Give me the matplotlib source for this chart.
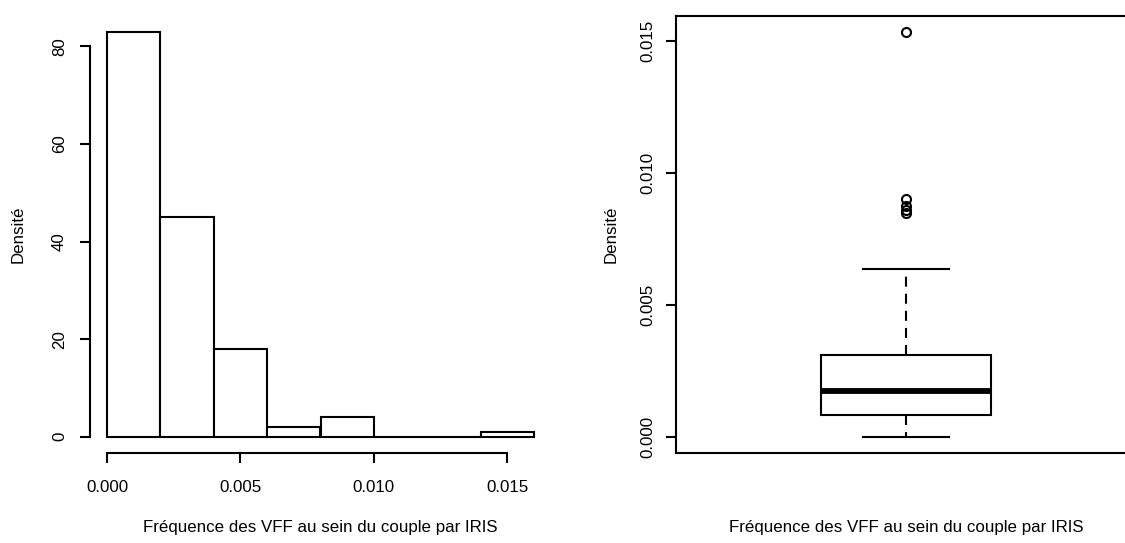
import matplotlib
matplotlib.use("Agg")
import matplotlib.pyplot as plt
import numpy as np

plt.rcParams['font.family'] = ['Liberation Sans', 'DejaVu Sans']

# Histogram data
bin_edges = [0.000, 0.002, 0.004, 0.006, 0.008, 0.010, 0.012, 0.014, 0.016]
counts = [83, 45, 18, 2, 4, 0, 0, 1]
hist_xticks = [0.000, 0.005, 0.010, 0.015]
hist_xticklabels = ["0.000", "0.005", "0.010", "0.015"]
hist_yticks = [0, 20, 40, 60, 80]

# Boxplot summary
box_q1 = 0.00083
box_med = 0.00174
box_q3 = 0.00311
box_whislo = 0.0
box_whishi = 0.00634
box_fliers = [0.01535, 0.00902, 0.00873, 0.00860, 0.00847]
box_yticks = [0.000, 0.005, 0.010, 0.015]
box_yticklabels = ["0.000", "0.005", "0.010", "0.015"]

xlabel = "Fréquence des VFF au sein du couple par IRIS"
ylabel = "Densité"

W, H = 1125, 543
fig = plt.figure(figsize=(W / 100, H / 100), dpi=100)

def pos(x0, y0, x1, y1):
    return [x0 / W, 1 - y1 / H, (x1 - x0) / W, (y1 - y0) / H]

lw = 1.5
fs = 12.2

# ---- Left: histogram ----
ax1 = fig.add_axes(pos(90, 15.5, 551, 453))
widths = np.diff(bin_edges)
ax1.bar(bin_edges[:-1], counts, width=widths, align='edge',
        facecolor='white', edgecolor='black', linewidth=lw)
rng = bin_edges[-1] - bin_edges[0]
ax1.set_xlim(bin_edges[0] - 0.04 * rng, bin_edges[-1] + 0.04 * rng)
ax1.set_ylim(-0.04 * max(counts), 1.04 * max(counts))
for s in ['top', 'right']:
    ax1.spines[s].set_visible(False)
ax1.spines['left'].set_bounds(0, 80)
ax1.spines['bottom'].set_bounds(0, 0.015)
for s in ['left', 'bottom']:
    ax1.spines[s].set_linewidth(lw)
ax1.set_xticks(hist_xticks)
ax1.set_xticklabels(hist_xticklabels)
ax1.set_yticks(hist_yticks)
ax1.set_yticklabels([str(v) for v in hist_yticks], rotation=90, va='center')
ax1.tick_params(axis='both', length=7.5, width=lw, labelsize=fs)
ax1.tick_params(axis='x', pad=12)
ax1.tick_params(axis='y', pad=9)
ax1.set_xlabel(xlabel, fontsize=fs, labelpad=18)
ax1.set_ylabel(ylabel, fontsize=fs, labelpad=19)

# ---- Right: boxplot ----
ax2 = fig.add_axes(pos(676, 15.5, 1136, 453))
stats = [dict(med=box_med, q1=box_q1, q3=box_q3, whislo=box_whislo,
              whishi=box_whishi, fliers=box_fliers)]
ax2.bxp(stats, positions=[1], widths=0.37, showcaps=True, patch_artist=True,
        boxprops=dict(facecolor='white', edgecolor='black', linewidth=lw),
        medianprops=dict(color='black', linewidth=4.2, solid_capstyle='butt'),
        whiskerprops=dict(color='black', linewidth=lw, linestyle=(0, (4.8, 3.4))),
        capprops=dict(color='black', linewidth=lw),
        capwidths=0.185,
        flierprops=dict(marker='o', markerfacecolor='none', markeredgecolor='black',
                        markersize=6.5, markeredgewidth=1.5))
ymin, ymax = 0.0, max(box_fliers)
yr = ymax - ymin
ax2.set_ylim(ymin - 0.04 * yr, ymax + 0.04 * yr)
ax2.set_xlim(0.5, 1.5)
for s in ax2.spines.values():
    s.set_linewidth(lw)
ax2.set_xticks([])
ax2.set_yticks(box_yticks)
ax2.set_yticklabels(box_yticklabels, rotation=90, va='center')
ax2.tick_params(axis='y', length=7.5, width=lw, labelsize=fs, pad=7)
ax2.set_xlabel(xlabel, fontsize=fs, labelpad=48)
ax2.set_ylabel(ylabel, fontsize=fs, labelpad=16)

fig.savefig("out.png", dpi=100, facecolor='white')
